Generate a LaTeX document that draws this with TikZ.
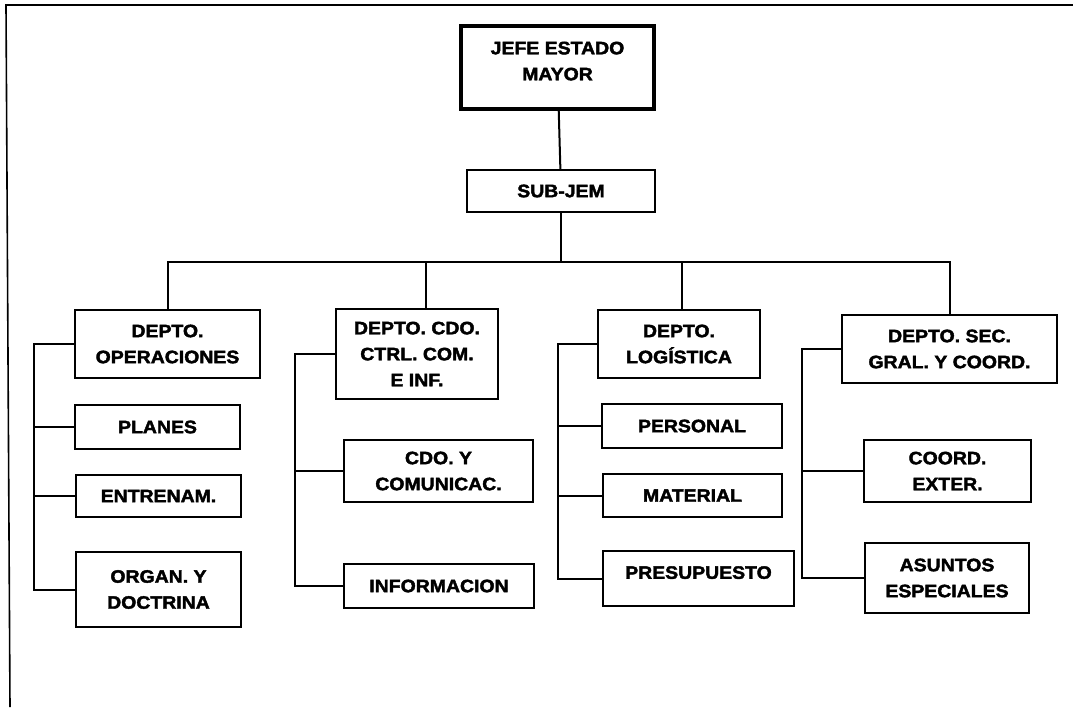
\documentclass[tikz,border=0pt]{standalone}
\usepackage{fontspec}
\newfontfamily\orgfont[FakeStretch=1.08,FakeBold=2.2]{Liberation Sans}
\usepackage{tikz}
\usetikzlibrary{positioning}

\tikzset{
  box/.style={draw, line width=2pt, align=center, inner sep=0pt,
    font=\orgfont\bfseries\fontsize{18}{26}\selectfont},
  link/.style={line width=2pt},
}

\begin{document}
\begin{tikzpicture}[x=1pt,y=-1pt]
\useasboundingbox (0,0) rectangle (1073,707);
% page frame of the scan
\draw[line width=1.6pt] (10,707)--(6,5)--(1073,5);

% top
\node[box, line width=3.4pt, minimum width=193pt, minimum height=83pt] (jefe) at (557.5,67.5) {JEFE ESTADO\\MAYOR\\[-13pt]};
\node[box, minimum width=188pt, minimum height=42pt] (sub) at (561,191) {SUB-JEM};

% departamentos
\node[box, minimum width=185pt, minimum height=68pt] (ops) at (167.5,344) {DEPTO.\\OPERACIONES};
\node[box, minimum width=162pt, minimum height=90pt] (cdo) at (417,354) {DEPTO. CDO.\\CTRL. COM.\\E INF.};
\node[box, minimum width=162pt, minimum height=68pt] (log) at (679,344) {DEPTO.\\LOGÍSTICA};
\node[box, minimum width=215pt, minimum height=68pt] (sec) at (949.5,349) {DEPTO. SEC.\\GRAL. Y COORD.};

% secciones
\node[box, minimum width=165pt, minimum height=44pt] (planes) at (157.5,427) {PLANES};
\node[box, minimum width=165pt, minimum height=42pt] (entren) at (158.5,496) {ENTRENAM.};
\node[box, minimum width=165pt, minimum height=75pt] (organ) at (158.5,589.5) {ORGAN. Y\\DOCTRINA};

\node[box, minimum width=189pt, minimum height=62pt] (comun) at (438.5,471) {CDO. Y\\COMUNICAC.};
\node[box, minimum width=190pt, minimum height=44pt] (info) at (439,586) {INFORMACION};

\node[box, minimum width=180pt, minimum height=44pt] (pers) at (692,426) {PERSONAL};
\node[box, minimum width=179pt, minimum height=43pt] (mat) at (692.5,495.5) {MATERIAL};
\node[box, minimum width=191pt, minimum height=55pt] (presu) at (698.5,578.5) {PRESUPUESTO\\[-14pt]};

\node[box, minimum width=167pt, minimum height=62pt] (coord) at (947.5,471) {COORD.\\EXTER.};
\node[box, minimum width=164pt, minimum height=70pt] (asun) at (947,578) {ASUNTOS\\ESPECIALES};

% bus
\coordinate (bus) at (561,262);
\coordinate (b2) at (426,262);
\coordinate (b3) at (682,262);
\draw[link] (jefe)--(sub);
\draw[link] (sub)--(bus);
\draw[link] (ops.north) |- (bus) -| (sec.north);
\draw[link] (b2)--(b2 |- cdo.north);
\draw[link] (b3)--(b3 |- log.north);

% brackets
\coordinate (k1) at (34,344);
\draw[link] (ops.west)--(k1) |- (organ.west);
\draw[link] (planes.west)--(planes.west -| k1);
\draw[link] (entren.west)--(entren.west -| k1);

\coordinate (k2) at (295,354);
\draw[link] (cdo.west)--(k2) |- (info.west);
\draw[link] (comun.west)--(comun.west -| k2);

\coordinate (k3) at (558,344);
\draw[link] (log.west)--(k3) |- (presu.west);
\draw[link] (pers.west)--(pers.west -| k3);
\draw[link] (mat.west)--(mat.west -| k3);

\coordinate (k4) at (802,349);
\draw[link] (sec.west)--(k4) |- (asun.west);
\draw[link] (coord.west)--(coord.west -| k4);
\end{tikzpicture}
\end{document}
